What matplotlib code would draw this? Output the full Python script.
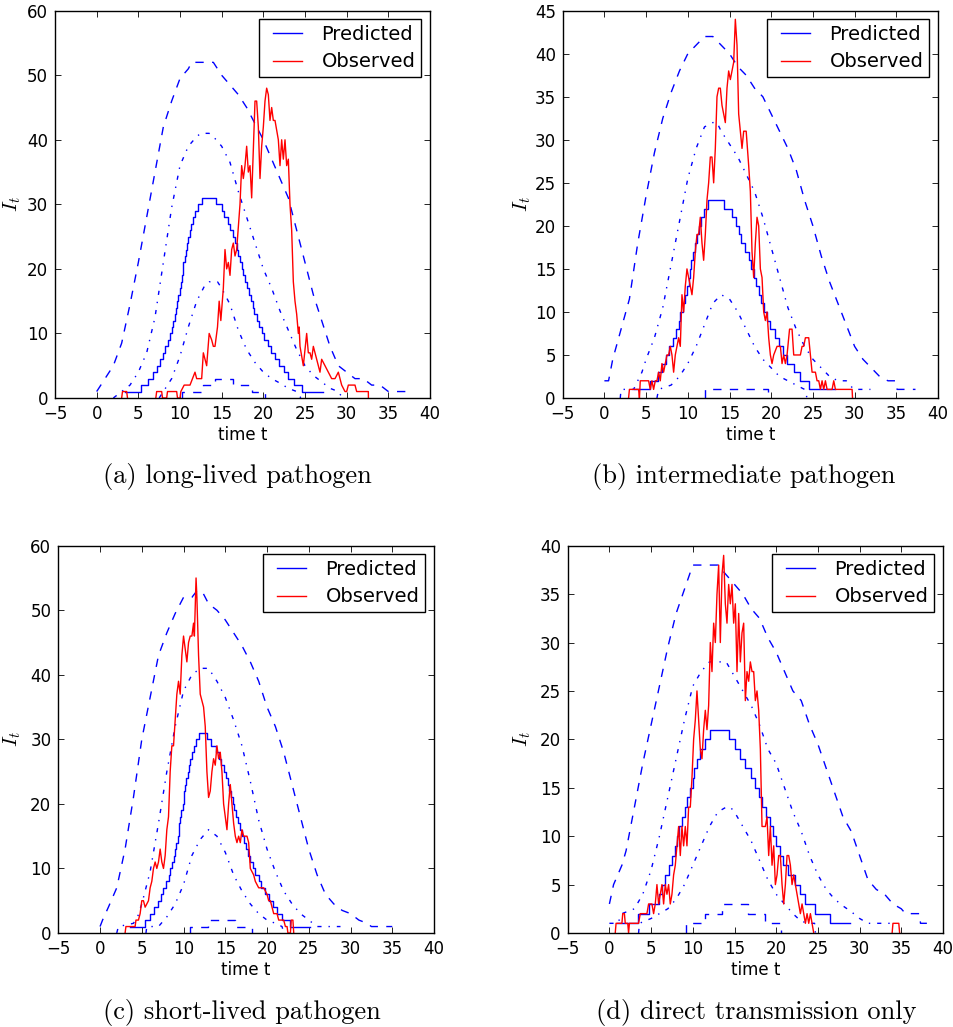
import numpy as np
import matplotlib
matplotlib.use("Agg")
import matplotlib.pyplot as plt
from matplotlib.lines import Line2D
from matplotlib.legend_handler import HandlerLine2D

NAN = float("nan")

# ---------------------------------------------------------------------------
# (a) long-lived pathogen
# ---------------------------------------------------------------------------
A_OBS_T = [3.0, 3.1, 3.6, 3.7, NAN, 7.1, 7.2, 7.8, 7.9, 8.4, 8.5,
           9.6, 9.7, 10.0, 10.1, 10.5, 11.2, 11.5, 11.8, 12.0, 12.6,
           12.8, 13.0, 13.2, 13.5, 13.8, 14.0, 14.2, 14.5, 14.7, 14.9,
           15.2, 15.4, 15.6, 15.8, 16.0, 16.2, 16.4, 16.6, 16.8, 17.2,
           17.4, 17.6, 17.8, 18.0, 18.2, 18.4, 18.6, 19.0, 19.2, 19.4,
           19.6, 19.8, 20.0, 20.2, 20.4, 20.6, 20.8, 21.0, 21.2, 21.4,
           21.8, 22.0, 22.2, 22.4, 22.6, 22.8, 23.0, 23.2, 23.4, 23.6,
           23.8, 24.0, 24.2, 24.3, 24.4, 24.8, 25.2, 25.4, 25.6, 25.8,
           26.0, 26.4, 26.8, 27.0, 27.4, 27.8, 28.2, 28.6, 29.0, 29.4,
           29.8, 30.0, 30.2, 31.0, 31.2, 32.6, 32.61]
A_OBS_V = [0, 1, 1, 0, NAN, 0, 1, 1, 0, 0, 1,
           1, 0, 0, 1, 2, 2, 3, 4, 3, 3,
           7, 6, 5, 10, 9, 8, 8, 11, 15, 12,
           17, 23, 20, 21, 19, 23, 24, 22, 23, 30,
           36, 34, 36, 39, 35, 36, 31, 46, 46, 42,
           34, 39, 42, 46, 48, 47, 43, 45, 43, 43,
           40, 36, 40, 37, 40, 36, 37, 30, 26, 18,
           15, 13, 10, 11, 8, 5, 10, 7, 7, 6,
           8, 6, 4, 6, 5, 4, 3, 3, 4, 2,
           1, 1, 2, 2, 1, 1, 0]
A_MEAN_T = [3.4, 5.3, 6.2, 6.8, 7.2, 7.6, 7.9, 8.2, 8.5, 8.8,
            9.0, 9.2, 9.35, 9.5, 9.65, 9.8, 9.95, 10.1, 10.2, 10.3,
            10.4, 10.55, 10.7, 10.85, 11.0, 11.15, 11.35, 11.6, 11.85, 12.2,
            12.6, 14.3, 15.0, 15.3, 15.7, 16.0, 16.3, 16.55, 16.8, 17.0,
            17.2, 17.4, 17.6, 17.8, 18.0, 18.3, 18.5, 18.7, 18.9, 19.2,
            19.5, 19.8, 20.1, 20.5, 20.9, 21.4, 21.9, 22.5, 23.0, 23.7,
            24.6, 27.2]
A_MEAN = [1, 2, 3, 4, 5, 6, 7, 8, 9, 10,
          11, 12, 13, 14, 15, 16, 17, 18, 19, 20,
          21, 22, 23, 24, 25, 26, 27, 28, 29, 30,
          31, 30, 29, 28, 27, 26, 25, 24, 23, 22,
          21, 20, 19, 18, 17, 16, 15, 14, 13, 12,
          11, 10, 9, 8, 7, 6, 5, 4, 3, 2,
          1, 1]
A_HI_T = [0, 1, 2, 3, 4, 5, 6, 7, 8, 9, 10, 11, 11.4, 14, 15, 16, 17, 18,
          19, 20, 21, 22, 23, 24, 25, 26, 27, 28, 29, 30, 31, 32, 33, 34,
          35, 37.2]
A_HI = [1, 3, 5, 8.5, 14.5, 21, 28, 35, 42, 46, 49.5, 51, 52, 52, 50, 48.5,
        47, 45, 42.5, 40, 37, 34, 31, 26, 21, 16, 12, 8, 5, 4, 3, 3, 2, 2,
        1, 1]
A_Q75_T = [2, 3, 4, 5, 6, 7, 8, 9, 10, 11, 12, 12.5, 13.5, 14, 15, 16, 17,
           18, 19, 20, 21, 22, 23, 24, 25, 26, 27, 28, 29, 29.5]
A_Q75 = [0, 1, 2, 4, 7, 12.5, 21, 29.5, 36, 39, 40.5, 41, 41, 40.5, 39,
         36.5, 32, 28, 24, 20, 17, 13.5, 10.5, 7.5, 5, 3.5, 2.5, 1.5, 1, 0]
A_Q25_T = [7.5, 8, 9, 10, 11, 12, 13, 13.5, 14.5, 15, 16, 17, 18, 19, 20,
           21, 22, 23, 24, 24.5]
A_Q25 = [0, 1, 3, 6.5, 11, 15, 17.5, 18, 18, 17, 14.5, 10.5, 7.5, 5.5, 4,
         3, 2.3, 1.5, 1, 0]
A_LO_T = [10.2, 10.2, 12.8, 12.8, 14.2, 14.2, 16.3, 16.3, 18.6, 18.6,
          20.2, 20.2]
A_LO = [0, 1, 1, 2, 2, 3, 3, 2, 2, 1, 1, 0]

# ---------------------------------------------------------------------------
# (b) intermediate pathogen
# ---------------------------------------------------------------------------
B_OBS_T = [2.9, 3.0, 4.1, 4.2, 4.3, 5.3, 5.5, 5.7, 5.9, 6.1,
           6.3, 6.5, 6.7, 6.9, 7.1, 7.3, 7.5, 7.7, 7.9, 8.1,
           8.3, 8.5, 8.7, 8.9, 9.1, 9.3, 9.5, 9.7, 9.9, 10.1,
           10.3, 10.5, 10.7, 10.9, 11.1, 11.3, 11.5, 11.7, 11.9, 12.1,
           12.3, 12.5, 12.7, 12.9, 13.1, 13.3, 13.5, 13.7, 13.9, 14.1,
           14.5, 14.7, 14.9, 15.1, 15.3, 15.5, 15.7, 15.9, 16.1, 16.3,
           16.5, 16.7, 17.0, 17.3, 17.5, 17.7, 17.9, 18.1, 18.3, 18.5,
           18.7, 18.9, 19.1, 19.3, 19.5, 19.7, 19.9, 20.1, 20.3, 20.7,
           21.1, 21.3, 21.5, 21.7, 21.9, 22.2, 22.5, 22.7, 23.5, 23.7,
           23.9, 24.1, 24.5, 24.7, 24.9, 25.3, 25.5, 25.7, 25.9, 26.1,
           26.3, 26.5, 26.7, 27.3, 27.5, 27.7, 29.7, 29.75]
B_OBS_V = [0, 1, 1, 0, 2, 2, 1, 2, 1, 2,
           2, 3, 2, 4, 3, 4, 5, 5, 6, 5,
           3, 5, 6, 7, 6, 12, 10, 13, 15, 14,
           13, 12, 14, 17, 19, 19, 21, 18, 16, 19,
           23, 25, 28, 28, 25, 29, 35, 36, 36, 34,
           32, 36, 38, 37, 38, 39, 44, 41, 33, 31,
           29, 31, 31, 27, 24, 17, 14, 18, 21, 20,
           15, 14, 10, 9, 10, 7, 5, 4, 5, 6,
           6, 4, 5, 4, 5, 8, 8, 5, 5, 6,
           6, 7, 7, 5, 3, 3, 2, 2, 1, 2,
           1, 2, 1, 1, 2, 1, 1, 0]
B_MEAN_T = [3.5, 5.5, 6.4, 6.9, 7.4, 7.8, 8.2, 8.6, 8.9, 9.1,
            9.4, 9.7, 9.9, 10.1, 10.25, 10.4, 10.6, 10.85, 11.1, 11.35,
            11.6, 11.9, 12.4, 14.3, 15.3, 15.8, 16.1, 16.4, 16.8, 17.3,
            17.6, 17.9, 18.2, 18.5, 18.8, 19.1, 19.5, 19.9, 20.4, 20.9,
            21.4, 21.9, 22.7, 23.5, 24.5, 27.7]
B_MEAN = [1, 2, 3, 4, 5, 6, 7, 8, 9, 10,
          11, 12, 13, 14, 15, 16, 17, 18, 19, 20,
          21, 22, 23, 22, 21, 20, 19, 18, 17, 16,
          15, 14, 13, 12, 11, 10, 9, 8, 7, 6,
          5, 4, 3, 2, 1, 1]
B_HI_T = [0, 0.5, 1, 2, 3, 4, 5, 6, 7, 8, 9, 10, 11, 12, 13, 14, 15, 16,
          17, 18, 19, 20, 21, 22, 23, 24, 25, 26, 27, 28, 29, 30, 31, 32,
          33, 34, 34.9, 35.1, 37.3]
B_HI = [2, 2, 4.5, 8, 11.5, 18, 23.5, 28.5, 32.5, 35.5, 38, 40, 41, 42, 42,
        41, 40, 38.5, 37.5, 36, 35, 33, 31, 29, 26.5, 23, 20, 16.5, 13.5,
        11, 8.5, 6, 4.5, 3.5, 2.5, 2, 2, 1, 1]
B_Q75_T = [1.9, 2.0, 3.5, 4, 4.5, 5, 6, 7, 8, 9, 10, 11, 12, 13, 13.5, 14,
           15, 16, 17, 18, 19, 20, 21, 22, 23, 24, 25, 26, 27, 28, 29, 29.9,
           31.9]
B_Q75 = [0, 1, 1, 2, 3, 4.5, 7, 10.5, 15.5, 20.5, 25.5, 29, 31.5, 32, 32,
         31, 29.5, 28, 26, 24, 21, 17.5, 14, 10.5, 8, 6, 4.5, 3.5, 2.5, 2, 2,
         1, 1]
B_Q25_T = [6.3, 6.5, 8, 8.5, 9, 10, 11, 12, 13, 14, 15, 16, 17, 18, 19, 20,
           21, 22, 23, 24, 24.3]
B_Q25 = [0, 1, 1.5, 2, 2.5, 4, 6, 8.5, 11, 12, 11.5, 10, 8, 6, 4.5, 3.5,
         2.5, 2, 1.5, 1, 0]
B_LO_T = [12.1, 12.1, 19.6, 19.6]
B_LO = [0, 1, 1, 0]

# ---------------------------------------------------------------------------
# (c) short-lived pathogen
# ---------------------------------------------------------------------------
C_OBS_T = [3.0, 3.1, 4.2, 4.3, 4.6, 4.8, 5.0, 5.2, 5.4, 5.8,
           6.0, 6.2, 6.4, 6.6, 6.8, 7.0, 7.2, 7.4, 7.6, 7.8,
           8.0, 8.2, 8.4, 8.6, 8.8, 9.0, 9.2, 9.4, 9.6, 9.8,
           10.0, 10.2, 10.4, 10.6, 10.8, 11.0, 11.2, 11.3, 11.5, 11.6,
           11.8, 12.0, 12.2, 12.4, 12.6, 12.8, 13.0, 13.2, 13.4, 13.6,
           13.8, 14.0, 14.2, 14.4, 14.6, 14.8, 15.0, 15.2, 15.4, 15.6,
           15.8, 16.0, 16.2, 16.4, 16.6, 16.8, 17.0, 17.2, 17.6, 17.8,
           18.0, 18.4, 18.6, 19.0, 19.6, 20.0, 20.2, 20.4, 20.8, 21.2,
           21.4, 22.0, 22.2, 22.4, 22.5, 22.8, 22.9, 23.1, 23.2]
C_OBS_V = [0, 1, 1, 2, 2, 3, 5, 5, 4, 5,
           7, 8, 10, 11, 10, 11, 13, 11, 10, 12,
           16, 18, 25, 29, 29, 33, 37, 39, 37, 43,
           46, 44, 42, 45, 46, 46, 48, 46, 55, 52,
           43, 37, 36, 35, 32, 25, 21, 22, 25, 27,
           26, 29, 27, 28, 25, 20, 18, 16, 20, 23,
           20, 17, 15, 14, 15, 14, 16, 15, 15, 14,
           10, 9, 8, 7, 7, 6, 5, 5, 3, 3,
           2, 2, 1, 1, 0, 0, 2, 2, 0]
C_MEAN_T = [3.6, 5.4, 6.0, 6.5, 6.9, 7.3, 7.6, 7.9, 8.2, 8.4,
            8.6, 8.8, 9.0, 9.15, 9.3, 9.4, 9.5, 9.6, 9.75, 9.9,
            10.0, 10.1, 10.2, 10.35, 10.5, 10.65, 10.8, 11.0, 11.2, 11.45,
            11.8, 12.8, 13.3, 13.9, 14.2, 14.5, 14.8, 15.1, 15.3, 15.5,
            15.7, 15.9, 16.1, 16.3, 16.55, 16.8, 17.0, 17.25, 17.5, 17.75,
            18.0, 18.3, 18.6, 19.0, 19.3, 19.7, 20.2, 20.7, 21.2, 21.8,
            22.8, 25.2]
C_MEAN = [1, 2, 3, 4, 5, 6, 7, 8, 9, 10,
          11, 12, 13, 14, 15, 16, 17, 18, 19, 20,
          21, 22, 23, 24, 25, 26, 27, 28, 29, 30,
          31, 30, 29, 28, 27, 26, 25, 24, 23, 22,
          21, 20, 19, 18, 17, 16, 15, 14, 13, 12,
          11, 10, 9, 8, 7, 6, 5, 4, 3, 2,
          1, 1]
C_HI_T = [0, 0.3, 1, 2, 3, 4, 5, 6, 7, 8, 9, 10, 11, 11.6, 12.2, 13, 14, 15,
          16, 17, 18, 19, 20, 21, 22, 23, 24, 25, 26, 27, 28, 29, 30, 31, 32,
          32.5, 35]
C_HI = [1, 2, 4, 7, 13, 21, 30, 36.5, 43, 46.5, 49.5, 52, 52, 53, 53, 51,
        50, 48.5, 46.5, 44.5, 42, 39, 35, 32, 28, 23, 18, 13, 9, 6, 4.5, 3.5,
        3, 2, 1.5, 1, 1]
C_Q75_T = [2.0, 2.2, 4, 4.5, 5, 6, 7, 8, 9, 10, 11, 12, 13, 14, 15, 16, 17,
           18, 19, 20, 21, 22, 23, 24, 25, 26, 28.8]
C_Q75 = [0, 1, 1.5, 2.5, 4.5, 9.5, 17, 25, 32, 37.5, 40, 41, 41, 39, 36.5,
         33, 29, 23.5, 17.5, 13, 9.5, 6.5, 4.5, 3, 2, 1, 1]
C_Q25_T = [5.5, 5.6, 7, 8, 9, 10, 11, 12, 13, 14, 15, 16, 17, 18, 19, 20,
           21, 21.8, 22]
C_Q25 = [0, 1, 1, 2.5, 4.5, 7.5, 12, 14.5, 16, 15, 12.5, 9, 6.5, 4.5, 3, 2,
         1.5, 1, 0]
C_LO_T = [10.8, 10.8, 12.9, 12.9, 16.2, 16.2, 18.2, 18.2]
C_LO = [0, 1, 1, 2, 2, 1, 1, 0]

# ---------------------------------------------------------------------------
# (d) direct transmission only
# ---------------------------------------------------------------------------
D_OBS_T = [0.7, 0.8, 1.5, 1.6, 1.8, 1.9, 2.2, 2.3, 2.4, 3.5,
           3.7, 4.5, 4.7, 5.1, 5.3, 5.5, 5.7, 5.9, 6.1, 6.3,
           6.5, 6.7, 6.9, 7.1, 7.3, 7.5, 7.7, 7.9, 8.1, 8.3,
           8.5, 8.7, 8.9, 9.1, 9.3, 9.5, 9.7, 9.9, 10.1, 10.3,
           10.5, 10.7, 10.9, 11.1, 11.3, 11.5, 11.7, 11.9, 12.1, 12.3,
           12.5, 12.7, 12.9, 13.1, 13.3, 13.5, 13.7, 13.9, 14.1, 14.3,
           14.5, 14.7, 14.9, 15.1, 15.3, 15.5, 15.7, 15.9, 16.1, 16.3,
           16.5, 16.7, 16.9, 17.1, 17.3, 17.5, 17.7, 17.9, 18.1, 18.3,
           18.7, 18.9, 19.1, 19.3, 19.5, 19.7, 19.9, 20.1, 20.3, 20.5,
           20.7, 20.9, 21.1, 21.3, 21.5, 21.7, 21.9, 22.1, 22.3, 22.5,
           22.7, 22.9, 23.1, 23.3, 23.5, 23.7, 23.9, 24.1, 24.3, 24.5,
           NAN, 33.9, 34.0, 34.7, 34.8]
D_OBS_V = [0, 1, 1, 2, 2, 1, 1, 0, 1, 1,
           2, 2, 3, 3, 2, 3, 5, 3, 4, 5,
           3, 5, 4, 5, 3, 4, 6, 7, 9, 11,
           8, 11, 9, 11, 9, 13, 13, 16, 20, 22,
           25, 22, 19, 18, 21, 23, 21, 23.5, 30, 27,
           32, 30, 35, 38, 30, 37, 39, 34, 32, 36,
           34, 36, 32, 34, 27, 33, 28, 31, 32, 24,
           27, 26, 28, 27, 27, 24, 25, 23, 19, 11,
           11, 12, 8, 11, 7, 9, 5, 6, 8, 8,
           5, 3, 5, 8, 8, 7, 5, 6, 5, 4,
           3, 2, 3, 2, 1, 2, 1, 2, 1, 0,
           NAN, 0, 1, 1, 0]
D_MEAN_T = [0.9, 3.4, 4.7, 5.9, 6.3, 6.7, 7.1, 7.5, 7.9, 8.1,
            8.3, 8.7, 9.1, 9.3, 9.7, 10.0, 10.1, 10.5, 10.9, 11.5,
            12.1, 14.3, 15.0, 15.6, 16.2, 17.0, 17.4, 17.9, 18.3, 18.8,
            19.2, 19.6, 20.0, 20.4, 20.8, 21.4, 22.2, 22.8, 23.4, 24.6,
            26.4, 28.9]
D_MEAN = [1, 2, 3, 4, 5, 6, 7, 8, 9, 10,
          11, 12, 13, 14, 15, 16, 17, 18, 19, 20,
          21, 20, 19, 18, 17, 16, 15, 14, 13, 12,
          11, 10, 9, 8, 7, 6, 5, 4, 3, 2,
          1, 1]
D_HI_T = [0, 0.5, 1, 1.5, 2, 3, 4, 5, 6, 7, 8, 9, 10, 13, 14, 15, 16, 17,
          18, 19, 20, 21, 22, 23, 24, 25, 26, 27, 28, 29, 30, 31, 32, 33, 34,
          35, 35.5, 37.2, 37.3, 38.1]
D_HI = [3, 5, 6, 7, 8.5, 13, 17.5, 21.5, 25.5, 29.5, 33, 35.5, 38, 38, 37,
        36, 35, 33.5, 32.5, 30.5, 29, 27, 25, 24, 21.5, 19.5, 17, 14.5, 12,
        10.5, 8, 5.5, 4.5, 4, 3, 2.5, 2, 2, 1, 1]
D_Q75_T = [0, 1, 1.5, 3, 4, 5, 6, 7, 8, 9, 10, 11, 12, 14, 15, 16, 17, 18,
           19, 20, 21, 22, 23, 24, 25, 26, 27, 28, 29, 30, 31, 34.1]
D_Q75 = [1, 1, 2, 2.5, 4, 6.5, 10, 14, 18, 22, 25.5, 27, 28, 28, 26.5, 25,
         23.5, 21.5, 19, 17.5, 15, 12.5, 10.5, 8, 6, 4.5, 3.5, 2.8, 2.2, 1.5,
         1, 1]
D_Q25_T = [3.5, 3.6, 5, 6, 7, 8, 9, 10, 11, 12, 13, 14, 14.5, 15, 16, 17,
           18, 19, 20, 21, 22, 23, 24, 24.6, 24.7]
D_Q25 = [0, 1, 1.5, 2, 2.5, 3.5, 5, 7, 9, 11, 12.5, 13, 13, 12.5, 11, 9.5,
         7.5, 5.5, 4, 3, 2, 1.2, 1, 1, 0]
D_LO_T = [9.2, 9.2, 11.5, 11.5, 13.5, 13.5, 16.6, 16.6, 18.6, 18.6, 20.6,
          20.6]
D_LO = [0, 1, 1, 2, 2, 3, 3, 2, 2, 1, 1, 0]

X_TICKS = [-5, 0, 5, 10, 15, 20, 25, 30, 35, 40]
CAPTIONS = ["(a) long-lived pathogen", "(b) intermediate pathogen",
            "(c) short-lived pathogen", "(d) direct transmission only"]

plt.rcParams.update({
    "font.family": "DejaVu Sans",
    "font.size": 12,
    "mathtext.fontset": "cm",
    "xtick.direction": "in",
    "ytick.direction": "in",
    "xtick.top": True,
    "ytick.right": True,
    "xtick.major.size": 4,
    "ytick.major.size": 4,
    "xtick.major.pad": 5,
    "ytick.major.pad": 5,
    "xtick.major.width": 0.6,
    "ytick.major.width": 0.6,
    "axes.linewidth": 1.0,
    "lines.linewidth": 1.0,
    "lines.scale_dashes": False,
    "lines.dashed_pattern": (6, 6),
    "lines.dashdot_pattern": (3, 5, 1, 5),
})

W, H = 954, 1027
fig = plt.figure(figsize=(W / 100, H / 100), dpi=100)


def px_axes(left, top, right, bottom):
    return fig.add_axes([left / W, 1 - bottom / H, (right - left) / W,
                         (bottom - top) / H])


def panel(ax, obs_t, obs_v, mean_t, mean_v, hi_t, hi_v, q75_t, q75_v,
          q25_t, q25_v, lo_t, lo_v, ymax, ystep, ylab_x):
    blue, red = (0, 0, 1), (1, 0, 0)
    pred, = ax.plot(mean_t, mean_v, color=blue, drawstyle="steps-post",
                    label="Predicted")
    ax.plot(hi_t, hi_v, color=blue, linestyle="--")
    ax.plot(lo_t, lo_v, color=blue, linestyle="--")
    ax.plot(q75_t, q75_v, color=blue, linestyle="-.")
    ax.plot(q25_t, q25_v, color=blue, linestyle="-.")
    obs, = ax.plot(obs_t, obs_v, color=red, label="Observed")
    ax.set_xlim(-5, 40)
    ax.set_ylim(0, ymax)
    ax.set_xticks(X_TICKS)
    ax.set_yticks(np.arange(0, ymax + 0.1, ystep))
    ax.set_xlabel("time t", labelpad=2)
    ax.set_ylabel(r"$I_t$", fontsize=15)
    ax.yaxis.set_label_coords(ylab_x, 0.5)
    leg = ax.legend(handles=[pred, obs], loc="upper right", fontsize=14,
                    fancybox=False, framealpha=1, edgecolor="black",
                    borderpad=0.3, labelspacing=0.42, handlelength=1.9,
                    handletextpad=1.03, borderaxespad=0.45,
                    handler_map={Line2D: HandlerLine2D(xpad=0.42)})
    leg.get_frame().set_linewidth(1.0)


ax_a = px_axes(55, 10.7, 430, 398)
panel(ax_a, A_OBS_T, A_OBS_V, A_MEAN_T, A_MEAN, A_HI_T, A_HI,
      A_Q75_T, A_Q75, A_Q25_T, A_Q25, A_LO_T, A_LO, 60, 10, -0.085)

ax_b = px_axes(562.7, 10.7, 938, 398)
panel(ax_b, B_OBS_T, B_OBS_V, B_MEAN_T, B_MEAN, B_HI_T, B_HI,
      B_Q75_T, B_Q75, B_Q25_T, B_Q25, B_LO_T, B_LO, 45, 5, -0.079)

ax_c = px_axes(58.3, 545.7, 434, 933)
panel(ax_c, C_OBS_T, C_OBS_V, C_MEAN_T, C_MEAN, C_HI_T, C_HI,
      C_Q75_T, C_Q75, C_Q25_T, C_Q25, C_LO_T, C_LO, 60, 10, -0.094)

ax_d = px_axes(567.7, 545.7, 943, 933)
panel(ax_d, D_OBS_T, D_OBS_V, D_MEAN_T, D_MEAN, D_HI_T, D_HI,
      D_Q75_T, D_Q75, D_Q25_T, D_Q25, D_LO_T, D_LO, 40, 5, -0.0925)

cap_pos = [(237, 477), (744, 477), (241.5, 1012), (756, 1012)]
for text, (cx, cy) in zip(CAPTIONS, cap_pos):
    fig.text(cx / W, 1 - cy / H, text, ha="center", va="center",
             family="cmr10", fontsize=19)

fig.savefig("out.png", dpi=100)
